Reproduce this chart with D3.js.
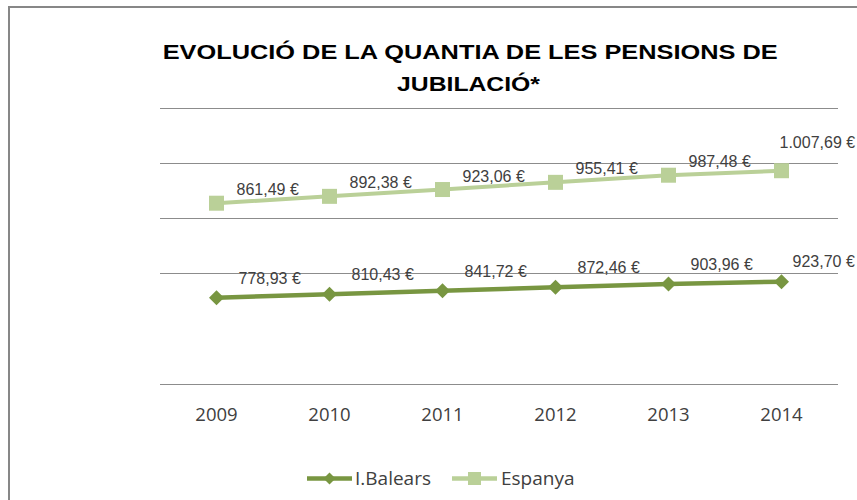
<!DOCTYPE html>
<html>
<head>
<meta charset="utf-8">
<script src="https://cdn.jsdelivr.net/npm/d3@7"></script>
<style>
  html, body { margin: 0; padding: 0; background: #fff; }
  svg { display: block; }
</style>
</head>
<body>
<svg id="chart" width="857" height="500"></svg>
<script>
// ---- data ----
const years = ["2009", "2010", "2011", "2012", "2013", "2014"];
const balears = [778.93, 810.43, 841.72, 872.46, 903.96, 923.70];
const espanya = [861.49, 892.38, 923.06, 955.41, 987.48, 1007.69];
const seriesNames = ["I.Balears", "Espanya"];
const titleLines = ["EVOLUCIÓ DE LA QUANTIA DE LES PENSIONS DE", "JUBILACIÓ*"];
const gridTicks = [0, 1000, 1500, 2000, 2500];

// ---- layout ----
const svg = d3.select("#chart");
const plot = { left: 160, right: 838, top: 108, bottom: 383.5 };
const colBal = "#789641";
const colEsp = "#BAD098";
const txt = "#404040";

const fmt = v => {
  const s = v.toFixed(2).split(".");
  const int = s[0].replace(/\B(?=(\d{3})+(?!\d))/g, ".");
  return int + "," + s[1] + " €";
};

// frame (only top/left visible in picture)
svg.append("rect")
  .attr("x", 9).attr("y", 7)
  .attr("width", 900).attr("height", 560)
  .attr("fill", "none").attr("stroke", "#878787").attr("stroke-width", 2);

// title
const titleSpec = [
  { x: 470.2, y: 59.3, len: 615 },
  { x: 468.5, y: 91, len: 143 }
];
svg.append("g").selectAll("text").data(titleLines).join("text")
  .attr("x", (d, i) => titleSpec[i].x)
  .attr("y", (d, i) => titleSpec[i].y)
  .attr("text-anchor", "middle")
  .attr("textLength", (d, i) => titleSpec[i].len)
  .attr("lengthAdjust", "spacingAndGlyphs")
  .attr("font-family", "'Liberation Sans', Arial, sans-serif")
  .attr("font-weight", "bold")
  .attr("font-size", 21)
  .attr("fill", "#000")
  .text(d => d);

// scales
const x = d3.scaleBand().domain(years).range([plot.left, plot.right]);
const xc = d => x(d) + x.bandwidth() / 2;
const yPrim = d3.scaleLinear().domain([0, 2500]).range([plot.bottom, plot.top]);
const ySec = d3.scaleLinear().domain([50, 1290]).range([plot.bottom, plot.top]);

// gridlines
svg.append("g").selectAll("line").data(gridTicks).join("line")
  .attr("x1", plot.left).attr("x2", plot.right)
  .attr("y1", d => Math.round(yPrim(d)) + 0.5)
  .attr("y2", d => Math.round(yPrim(d)) + 0.5)
  .attr("stroke", "#8c8c8c").attr("stroke-width", 1.2);

// x axis labels
const xAxis = d3.axisBottom(x).tickSize(0).tickPadding(0);
const gx = svg.append("g").attr("transform", `translate(0, 421)`).call(xAxis);
gx.select(".domain").remove();
gx.selectAll("text")
  .attr("dy", 0).attr("y", 0)
  .attr("font-family", "'Open Sans', Lato, sans-serif")
  .attr("font-size", 18.5)
  .attr("fill", txt);

// lines
const series = [
  { name: seriesNames[1], vals: espanya, y: ySec, color: colEsp, width: 4, shape: "square",
    dx: 20, dy: -8, lastDx: -2, lastDy: -23 },
  { name: seriesNames[0], vals: balears, y: yPrim, color: colBal, width: 4.5, shape: "diamond",
    dx: 22, dy: -14, lastDx: 11, lastDy: -15 }
];

series.forEach(s => {
  const pts = years.map((yr, i) => ({ yr, v: s.vals[i], i }));
  const line = d3.line().x(d => xc(d.yr)).y(d => s.y(d.v));
  svg.append("path").datum(pts)
    .attr("d", line)
    .attr("fill", "none")
    .attr("stroke", s.color)
    .attr("stroke-width", s.width)
    .attr("stroke-linejoin", "round");
  const g = svg.append("g");
  if (s.shape === "square") {
    g.selectAll("rect").data(pts).join("rect")
      .attr("x", d => xc(d.yr) - 7.5).attr("y", d => s.y(d.v) - 7.5)
      .attr("width", 15).attr("height", 15)
      .attr("fill", s.color);
  } else {
    g.selectAll("path").data(pts).join("path")
      .attr("transform", d => `translate(${xc(d.yr)},${s.y(d.v)})`)
      .attr("d", "M0,-7.5L7.5,0L0,7.5L-7.5,0Z")
      .attr("fill", s.color);
  }
  svg.append("g").selectAll("text").data(pts).join("text")
    .attr("x", d => xc(d.yr) + (d.i === years.length - 1 ? s.lastDx : s.dx))
    .attr("y", d => s.y(d.v) + (d.i === years.length - 1 ? s.lastDy : s.dy))
    .attr("font-family", "'Liberation Sans', Arial, sans-serif")
    .attr("font-size", 16)
    .attr("fill", txt)
    .text(d => fmt(d.v));
});

// legend
const legend = [
  { name: seriesNames[0], color: colBal, shape: "diamond", x1: 307, x2: 352, tx: 355 },
  { name: seriesNames[1], color: colEsp, shape: "square", x1: 452, x2: 497, tx: 501 }
];
const lg = svg.append("g");
legend.forEach(l => {
  const ly = 478.5;
  lg.append("line").attr("x1", l.x1).attr("x2", l.x2).attr("y1", ly).attr("y2", ly)
    .attr("stroke", l.color).attr("stroke-width", 4.5);
  const cx = (l.x1 + l.x2) / 2;
  if (l.shape === "square") {
    lg.append("rect").attr("x", cx - 6.5).attr("y", ly - 6.5).attr("width", 13).attr("height", 13)
      .attr("fill", l.color);
  } else {
    lg.append("path").attr("transform", `translate(${cx},${ly})`)
      .attr("d", "M0,-6L6,0L0,6L-6,0Z").attr("fill", l.color);
  }
  lg.append("text").attr("x", l.tx).attr("y", 485)
    .attr("font-family", "'Open Sans', Lato, sans-serif")
    .attr("font-size", 19)
    .attr("fill", txt)
    .text(l.name);
});
</script>
</body>
</html>
